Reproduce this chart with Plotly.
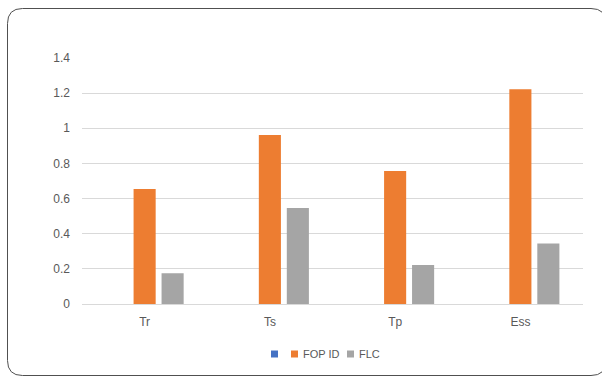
import plotly.graph_objects as go

categories = ["Tr", "Ts", "Tp", "Ess"]
series_blank = [0, 0, 0, 0]
fopid = [0.655, 0.962, 0.757, 1.222]
flc = [0.175, 0.546, 0.222, 0.345]
y_ticks = [0, 0.2, 0.4, 0.6, 0.8, 1, 1.2, 1.4]

series = [
    ("", series_blank, "#4472C4"),
    ("FOP ID", fopid, "#ED7D31"),
    ("FLC", flc, "#A5A5A5"),
]

W, H = 602, 376
L, R, T, B = 82, 583, 58, 304  # plot area in pixels

fig = go.Figure()
for name, vals, color in series:
    fig.add_trace(go.Bar(x=categories, y=vals, name=name,
                         marker=dict(color=color, line=dict(width=0))))


def px(x):
    return (x - L) / (R - L)


def py(y):
    return (B - y) / (B - T)


# rounded card outline around the chart (runs past the right and bottom edges)
x0, y0, x1, y1, r = 7.5, 8.5, 606, 375.5, 15
path = (
    f"M {px(x0 + r)} {py(y0)} L {px(x1 - r)} {py(y0)} "
    f"Q {px(x1)} {py(y0)} {px(x1)} {py(y0 + r)} "
    f"L {px(x1)} {py(y1 - r)} Q {px(x1)} {py(y1)} {px(x1 - r)} {py(y1)} "
    f"L {px(x0 + r)} {py(y1)} Q {px(x0)} {py(y1)} {px(x0)} {py(y1 - r)} "
    f"L {px(x0)} {py(y0 + r)} Q {px(x0)} {py(y0)} {px(x0 + r)} {py(y0)} Z"
)
shapes = [dict(type="path", path=path, xref="paper", yref="paper",
               line=dict(color="#505050", width=1), layer="below")]
annotations = []

# compact legend row below the axis: square swatch followed by series name
legend_x = [271, 291, 347]
legend_cy = 354
sq = 7
for (name, _, color), lx in zip(series, legend_x):
    shapes.append(dict(type="rect", xref="paper", yref="paper",
                       x0=px(lx), x1=px(lx + sq),
                       y0=py(legend_cy + sq / 2), y1=py(legend_cy - sq / 2),
                       fillcolor=color, line=dict(width=0)))
    if name:
        annotations.append(dict(text=name, xref="paper", yref="paper",
                                x=px(lx + sq + 3), y=py(legend_cy),
                                xanchor="left", yanchor="middle", showarrow=False,
                                font=dict(family="Liberation Sans", size=11, color="#595959")))

fig.update_layout(
    width=W,
    height=H,
    margin=dict(l=L, r=W - R, t=T, b=H - B, autoexpand=False),
    paper_bgcolor="white",
    plot_bgcolor="white",
    barmode="group",
    bargap=0.33,
    bargroupgap=0.21,
    font=dict(family="Liberation Sans", size=11, color="#595959"),
    showlegend=False,
    xaxis=dict(
        showgrid=False,
        showline=False,
        ticks="",
        tickfont=dict(size=12),
        ticklabelstandoff=9,
        automargin=False,
    ),
    yaxis=dict(
        range=[0, 1.4],
        tickvals=y_ticks,
        ticktext=[f"{v:g}" for v in y_ticks],
        showgrid=True,
        gridcolor="#D9D9D9",
        gridwidth=1,
        zeroline=True,
        zerolinecolor="#D9D9D9",
        zerolinewidth=1,
        showline=False,
        ticks="",
        tickfont=dict(size=12),
        ticklabelstandoff=11,
        automargin=False,
    ),
    shapes=shapes,
    annotations=annotations,
)

fig.write_html("out.html")
